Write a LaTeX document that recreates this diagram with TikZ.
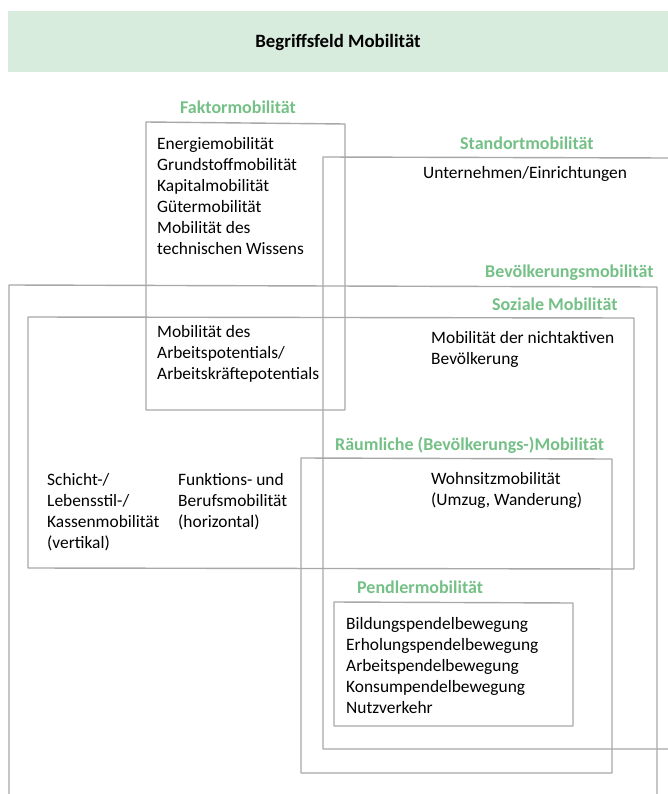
\documentclass[tikz,border=0pt]{standalone}
\usepackage{fontspec}
\setmainfont{Carlito}
\definecolor{labgreen}{RGB}{116,192,134}
\definecolor{barfill}{RGB}{216,236,222}
\definecolor{linegray}{RGB}{168,168,168}
\newcommand{\bodyfont}{\fontsize{17.4}{21}\selectfont}
\newcommand{\labfont}{\fontsize{18}{21}\selectfont\bfseries}
\newcommand{\titlefont}{\fontsize{18.8}{22}\selectfont\bfseries}
\tikzset{
  txt/.style={anchor=north west, align=left, inner sep=0pt, font=\bodyfont, text=black},
  lab/.style={anchor=base west, inner sep=0pt, font=\labfont, text=labgreen},
  frame/.style={draw=linegray, line width=1.4pt, line join=round}
}
\begin{document}
\begin{tikzpicture}[x=1pt,y=-1pt]
\useasboundingbox (0,0) rectangle (668,794);
% title bar
\fill[barfill] (8,11) rectangle (668,72);
\node[anchor=base, inner sep=0pt, font=\titlefont] (title) at (338,48) {Begriffsfeld Mobilität};

% frames
\draw[frame] (146,122) -- (345,124) -- (345,410) -- (146,410) -- cycle; % Faktor
\draw[frame] (668,158) -- (323,157) -- (323,749) -- (668,749);          % Standort
\draw[frame] (9,794) -- (9,285) -- (657,287) -- (657,794);              % Bevoelkerung
\draw[frame] (28,317) -- (634,318) -- (634,569) -- (28,568) -- cycle;   % Soziale
\draw[frame] (301,458) -- (612,459) -- (612,773) -- (301,773) -- cycle; % Raeumliche
\draw[frame] (334,602) -- (573,603) -- (573,726) -- (334,726) -- cycle; % Pendler

% labels
\node[lab] (lfaktor) at (180,114) {Faktormobilität};
\node[lab] (lstandort) at (460,150) {Standortmobilität};
\node[lab] (lbev) at (485,277) {Bevölkerungsmobilität};
\node[lab] (lsoz) at (492,310) {Soziale Mobilität};
\node[lab] (lraum) at (335,450) {Räumliche (Bevölkerungs-)Mobilität};
\node[lab] (lpend) at (357,593) {Pendlermobilität};

% texts (anchor at top of first line: baseline minus ~13)
\node[txt] (tfaktor) at (157,137) {Energiemobilität\\Grundstoffmobilität\\Kapitalmobilität\\Gütermobilität\\Mobilität des\\technischen Wissens};
\node[txt] (tstandort) at (423,166) {Unternehmen/Einrichtungen};
\node[txt] (tarbeit) at (157,325) {Mobilität des\\Arbeitspotentials/\\Arbeitskräftepotentials};
\node[txt] (tnicht) at (431,331) {Mobilität der nichtaktiven\\Bevölkerung};
\node[txt] (tschicht) at (47,473) {Schicht-/\\Lebensstil-/\\Kassenmobilität\\(vertikal)};
\node[txt] (tfunk) at (178,473) {Funktions- und\\Berufsmobilität\\(horizontal)};
\node[txt] (twohn) at (431,472) {Wohnsitzmobilität\\(Umzug, Wanderung)};
\node[txt] (tpend) at (346,617) {Bildungspendelbewegung\\Erholungspendelbewegung\\Arbeitspendelbewegung\\Konsumpendelbewegung\\Nutzverkehr};
\end{tikzpicture}
\end{document}
